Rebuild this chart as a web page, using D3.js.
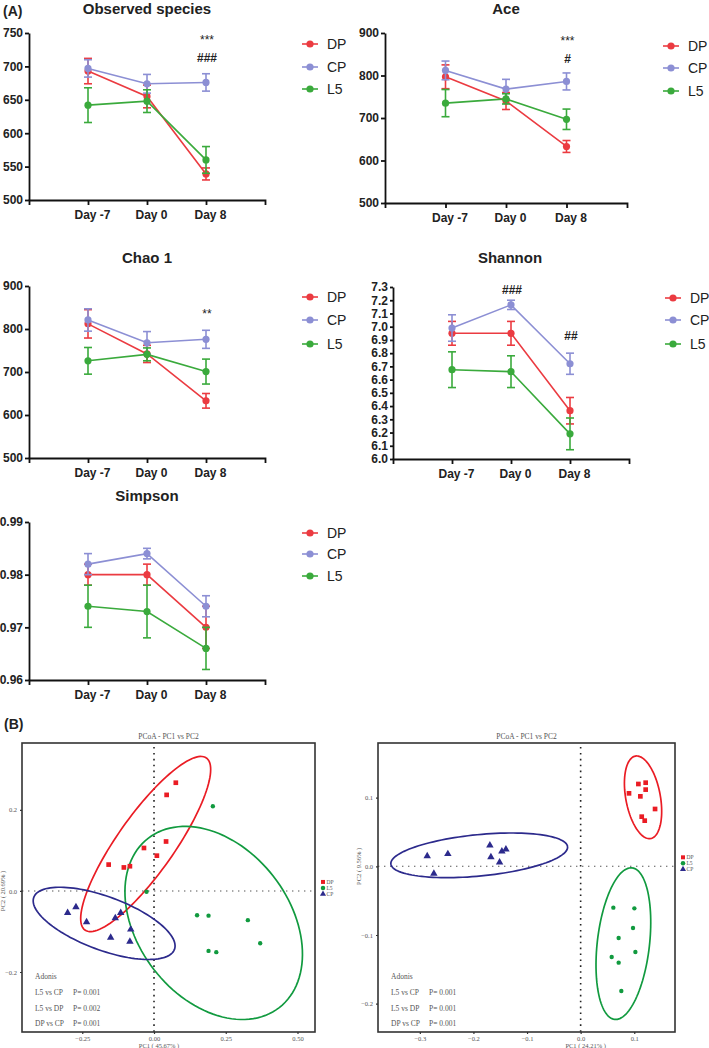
<!DOCTYPE html>
<html><head><meta charset="utf-8">
<script src="https://cdn.jsdelivr.net/npm/d3@7"></script>
<style>body{margin:0;background:#fff;} svg{display:block;}</style>
</head><body><svg id="c" width="709" height="1048"></svg>
<script>
// ---------- DATA ----------
const days = ["Day -7", "Day 0", "Day 8"];
const groups = ["DP", "CP", "L5"];

const obsDP = [693, 655, 539], obsDPErr = [19, 17, 9];
const obsCP = [697, 674, 676], obsCPErr = [13, 14, 13];
const obsL5 = [642, 648, 560], obsL5Err = [26, 17, 20];
const obsTicks = [500, 550, 600, 650, 700, 750];

const aceDP = [797, 740, 633], aceDPErr = [28, 20, 14];
const aceCP = [812, 768, 786], aceCPErr = [22, 23, 20];
const aceL5 = [735, 745, 697], aceL5Err = [32, 12, 24];
const aceTicks = [500, 600, 700, 800, 900];

const chaoDP = [812, 742, 633], chaoDPErr = [33, 20, 17];
const chaoCP = [821, 768, 776], chaoCPErr = [26, 26, 21];
const chaoL5 = [726, 741, 701], chaoL5Err = [31, 15, 29];
const chaoTicks = [500, 600, 700, 800, 900];

const shanDP = [6.95, 6.95, 6.365], shanDPErr = [0.09, 0.09, 0.1];
const shanCP = [6.99, 7.165, 6.72], shanCPErr = [0.1, 0.035, 0.08];
const shanL5 = [6.675, 6.66, 6.19], shanL5Err = [0.135, 0.12, 0.12];
const shanTicks = [6.0, 6.1, 6.2, 6.3, 6.4, 6.5, 6.6, 6.7, 6.8, 6.9, 7.0, 7.1, 7.2, 7.3];

const simDP = [0.980, 0.980, 0.970], simDPErr = [0.002, 0.002, 0.004];
const simCP = [0.982, 0.984, 0.974], simCPErr = [0.002, 0.001, 0.002];
const simL5 = [0.974, 0.973, 0.966], simL5Err = [0.004, 0.005, 0.004];
const simTicks = [0.96, 0.97, 0.98, 0.99];

// PCoA left  (PC1, PC2)
const pcoaL_DP = [[0.076,0.267],[0.044,0.237],[0.042,0.122],[-0.035,0.106],[0.010,0.087],[-0.158,0.065],[-0.105,0.058],[-0.084,0.061]];
const pcoaL_L5 = [[0.205,0.209],[-0.026,-0.002],[0.150,-0.060],[0.190,-0.061],[0.327,-0.072],[0.370,-0.129],[0.190,-0.148],[0.217,-0.151]];
const pcoaL_CP = [[-0.301,-0.054],[-0.272,-0.040],[-0.235,-0.077],[-0.135,-0.067],[-0.116,-0.054],[-0.081,-0.095],[-0.151,-0.115],[-0.084,-0.125]];
// ellipse: centre, semi-axis vector 1, semi-axis vector 2 (data units)
const ellL_DP = [-0.029, 0.1158, 0.2116, 0.2122, 0.0807, -0.0405];
const ellL_L5 = [0.208, -0.079, 0.2285, -0.2088, -0.2085, -0.1147];
const ellL_CP = [-0.1738, -0.080, 0.2451, -0.0643, -0.0322, -0.0617];
const pcoaLxTicks = [-0.25, 0, 0.25, 0.5];
const pcoaLyTicks = [-0.2, 0, 0.2];
const adonisL = [["L5 vs CP", "P= 0.001"], ["L5 vs DP", "P= 0.002"], ["DP vs CP", "P= 0.001"]];

// PCoA right
const pcoaR_DP = [[0.0902,0.1063],[0.1077,0.1199],[0.1213,0.1218],[0.1213,0.1117],[0.1114,0.1019],[0.1388,0.0835],[0.1139,0.0723],[0.1195,0.0665]];
const pcoaR_L5 = [[0.061,-0.0602],[0.1002,-0.0612],[0.0977,-0.0898],[0.0709,-0.1044],[0.1021,-0.1248],[0.0579,-0.1320],[0.0709,-0.1403],[0.0759,-0.1816]];
const pcoaR_CP = [[-0.2862,0.0150],[-0.2477,0.0180],[-0.2738,-0.0107],[-0.1693,0.0306],[-0.1674,0.0136],[-0.1469,0.0218],[-0.1394,0.0248],[-0.1512,0.0058]];
const ellR_DP = [0.1164, 0.1005, 0.01425, -0.06005, -0.0317, -0.00459];
const ellR_L5 = [0.0797, -0.1126, 0.01624, 0.11034, 0.0484, -0.00432];
const ellR_CP = [-0.1892, 0.0160, 0.1648, 0.01257, 0.003765, -0.0300];
const pcoaRxTicks = [-0.3, -0.2, -0.1, 0, 0.1];
const pcoaRyTicks = [-0.2, -0.1, 0, 0.1];
const adonisR = [["L5 vs CP", "P= 0.001"], ["L5 vs DP", "P= 0.001"], ["DP vs CP", "P= 0.001"]];

// ---------- STYLE ----------
const lineColor = {DP: "#eb3b41", CP: "#8c8fd4", L5: "#3aaa3c"};
const pcoaColor = {DP: "#ea1c24", L5: "#119a3f", CP: "#2c2a8c"};
const SANS = "'Liberation Sans', Arial, Helvetica, sans-serif";
const SERIF = "'Liberation Serif', 'DejaVu Serif', serif";

const svg = d3.select("#c");

function linePanel(cfg) {
  const g = svg.append("g");
  const x = d3.scaleLinear().domain([0, 4]).range([cfg.x0, cfg.x1]);
  const y = d3.scaleLinear().domain(cfg.domain).range([cfg.yb, cfg.yt]);

  // axes
  const ya = g.append("g").attr("transform", `translate(${cfg.x0},0)`)
    .call(d3.axisLeft(y).tickValues(cfg.ticks).tickFormat(cfg.fmt).tickSize(cfg.tickLen || 4).tickSizeOuter(0).tickPadding(2));
  const xa = g.append("g").attr("transform", `translate(0,${cfg.yb})`)
    .call(d3.axisBottom(x).tickValues([1, 2, 3]).tickFormat(i => days[i - 1]).tickSize(5).tickSizeOuter(5).tickPadding(5));
  [ya, xa].forEach(a => {
    a.selectAll("path,line").attr("stroke", "#111").attr("stroke-width", 1.8);
    a.selectAll("text").attr("font-family", SANS).attr("font-weight", "bold")
      .attr("font-size", cfg.fs || 12).attr("fill", "#222");
  });
  xa.selectAll("text").attr("dx", 4);

  // title
  g.append("text").attr("x", cfg.tx).attr("y", cfg.ty).attr("text-anchor", "middle")
    .attr("font-family", SANS).attr("font-weight", "bold").attr("font-size", 15).attr("fill", "#222")
    .text(cfg.title);

  // series
  cfg.series.forEach(s => {
    const col = lineColor[s.name];
    const pts = s.mean.map((v, i) => [x(i + 1), y(v)]);
    g.append("path").attr("d", d3.line()(pts)).attr("fill", "none").attr("stroke", col).attr("stroke-width", 1.6);
    s.mean.forEach((v, i) => {
      const cx = x(i + 1), top = y(v + s.err[i]), bot = y(v - s.err[i]);
      g.append("line").attr("x1", cx).attr("x2", cx).attr("y1", top).attr("y2", bot).attr("stroke", col).attr("stroke-width", 1.6);
      [top, bot].forEach(yy => g.append("line").attr("x1", cx - 4).attr("x2", cx + 4).attr("y1", yy).attr("y2", yy)
        .attr("stroke", col).attr("stroke-width", 1.6));
      g.append("circle").attr("cx", cx).attr("cy", y(v)).attr("r", 3.6).attr("fill", col);
    });
  });

  // annotations
  (cfg.notes || []).forEach(n => {
    g.append("text").attr("x", x(n.i + 1) + 1).attr("y", n.y).attr("text-anchor", "middle")
      .attr("font-family", SANS).attr("font-weight", n.bold ? "bold" : "normal").attr("font-size", n.fs || 12)
      .attr("fill", "#222").text(n.t);
  });

  // legend
  groups.forEach((name, k) => {
    const ly = cfg.ly[k], lx = cfg.lx;
    g.append("line").attr("x1", lx).attr("x2", lx + 16).attr("y1", ly).attr("y2", ly)
      .attr("stroke", lineColor[name]).attr("stroke-width", 1.6);
    g.append("circle").attr("cx", lx + 8).attr("cy", ly).attr("r", 3.6).attr("fill", lineColor[name]);
    g.append("text").attr("x", lx + 25).attr("y", ly + 5).attr("font-family", SANS).attr("font-size", 14)
      .attr("fill", "#222").text(name);
  });
}

const f0 = d3.format("d");
linePanel({title: "Observed species", tx: 147, ty: 14, x0: 29, x1: 265, yt: 33, yb: 200,
  domain: [500, 750], ticks: obsTicks, fmt: f0,
  series: [{name: "DP", mean: obsDP, err: obsDPErr}, {name: "CP", mean: obsCP, err: obsCPErr}, {name: "L5", mean: obsL5, err: obsL5Err}],
  notes: [{i: 2, y: 44, t: "***"}, {i: 2, y: 62, t: "###", bold: true}],
  lx: 302, ly: [44, 67, 89]});

linePanel({title: "Ace", tx: 506, ty: 14, x0: 385, x1: 627, yt: 33, yb: 203,
  domain: [500, 900], ticks: aceTicks, fmt: f0,
  series: [{name: "DP", mean: aceDP, err: aceDPErr}, {name: "CP", mean: aceCP, err: aceCPErr}, {name: "L5", mean: aceL5, err: aceL5Err}],
  notes: [{i: 2, y: 45, t: "***"}, {i: 2, y: 63, t: "#", bold: true}],
  lx: 663, ly: [46, 68, 91]});

linePanel({title: "Chao 1", tx: 147, ty: 263, x0: 29, x1: 265, yt: 286, yb: 458,
  domain: [500, 900], ticks: chaoTicks, fmt: f0,
  series: [{name: "DP", mean: chaoDP, err: chaoDPErr}, {name: "CP", mean: chaoCP, err: chaoCPErr}, {name: "L5", mean: chaoL5, err: chaoL5Err}],
  notes: [{i: 2, y: 318, t: "**"}],
  lx: 302, ly: [297, 320, 344]});

linePanel({title: "Shannon", tx: 510, ty: 263, x0: 393, x1: 629, yt: 287, yb: 459,
  domain: [6.0, 7.3], ticks: shanTicks, fmt: d3.format(".1f"), tickLen: 3,
  series: [{name: "DP", mean: shanDP, err: shanDPErr}, {name: "CP", mean: shanCP, err: shanCPErr}, {name: "L5", mean: shanL5, err: shanL5Err}],
  notes: [{i: 1, y: 294, t: "###", bold: true}, {i: 2, y: 340, t: "##", bold: true}],
  lx: 665, ly: [298, 320, 344]});

linePanel({title: "Simpson", tx: 147, ty: 501, x0: 29, x1: 265, yt: 522, yb: 680,
  domain: [0.96, 0.99], ticks: simTicks, fmt: d3.format(".2f"),
  series: [{name: "DP", mean: simDP, err: simDPErr}, {name: "CP", mean: simCP, err: simCPErr}, {name: "L5", mean: simL5, err: simL5Err}],
  notes: [],
  lx: 302, ly: [533, 554, 576]});

// panel letters
svg.append("text").attr("x", 3).attr("y", 16).attr("font-family", SANS).attr("font-weight", "bold")
  .attr("font-size", 14).attr("fill", "#222").text("(A)");
svg.append("text").attr("x", 4).attr("y", 729).attr("font-family", SANS).attr("font-weight", "bold")
  .attr("font-size", 14).attr("fill", "#222").text("(B)");

// ---------- PCoA ----------
function pcoaPanel(cfg) {
  const g = svg.append("g");
  const x = d3.scaleLinear().domain(cfg.xd).range([cfg.x0, cfg.x1]);
  const y = d3.scaleLinear().domain(cfg.yd).range([cfg.y1, cfg.y0]);
  const tc = "#555";

  // zero lines
  g.append("line").attr("x1", x(0)).attr("x2", x(0)).attr("y1", cfg.y0 + 4).attr("y2", cfg.y1)
    .attr("stroke", "#222").attr("stroke-width", 1.6).attr("stroke-dasharray", "1.6,4.3");
  g.append("line").attr("x1", cfg.x0).attr("x2", cfg.x1).attr("y1", y(0)).attr("y2", y(0))
    .attr("stroke", "#555").attr("stroke-width", 1.1).attr("stroke-dasharray", "1.4,4.6");

  // ellipses
  const ts = d3.range(0, 121).map(k => k / 120 * 2 * Math.PI);
  cfg.ells.forEach(e => {
    const p = e.e;
    const pts = ts.map(t => [x(p[0] + Math.cos(t) * p[2] + Math.sin(t) * p[4]), y(p[1] + Math.cos(t) * p[3] + Math.sin(t) * p[5])]);
    g.append("path").attr("d", d3.line()(pts)).attr("fill", "none").attr("stroke", pcoaColor[e.name]).attr("stroke-width", 1.7);
  });

  // points
  const sym = {DP: d3.symbolSquare, L5: d3.symbolCircle, CP: d3.symbolTriangle};
  const sz = {DP: 22, L5: 15, CP: 24};
  cfg.pts.forEach(s => {
    s.d.forEach(d => g.append("path").attr("d", d3.symbol().type(sym[s.name]).size(sz[s.name])())
      .attr("transform", `translate(${x(d[0])},${y(d[1])})`).attr("fill", pcoaColor[s.name]));
  });

  // box
  g.append("rect").attr("x", cfg.x0).attr("y", cfg.y0).attr("width", cfg.x1 - cfg.x0).attr("height", cfg.y1 - cfg.y0)
    .attr("fill", "none").attr("stroke", "#333").attr("stroke-width", 1.6);

  // axes
  const xa = g.append("g").attr("transform", `translate(0,${cfg.y1})`)
    .call(d3.axisBottom(x).tickValues(cfg.xt).tickFormat(cfg.xf).tickSize(2).tickSizeOuter(0).tickPadding(2));
  const ya = g.append("g").attr("transform", `translate(${cfg.x0},0)`)
    .call(d3.axisLeft(y).tickValues(cfg.yt).tickFormat(cfg.yf).tickSize(2).tickSizeOuter(0).tickPadding(3));
  [xa, ya].forEach(a => {
    a.select(".domain").remove();
    a.selectAll("line").attr("stroke", "#333").attr("stroke-width", 1.2);
    a.selectAll("text").attr("font-family", SERIF).attr("font-size", 6.5).attr("fill", tc);
  });

  // titles
  g.append("text").attr("x", (cfg.x0 + cfg.x1) / 2).attr("y", cfg.y0 - 4).attr("text-anchor", "middle")
    .attr("font-family", SERIF).attr("font-size", 7.5).attr("fill", tc).text("PCoA - PC1 vs PC2");
  g.append("text").attr("x", x(0) + 5).attr("y", cfg.y1 + 16).attr("text-anchor", "middle")
    .attr("font-family", SERIF).attr("font-size", 6.5).attr("fill", tc).text(cfg.xlab);
  g.append("text").attr("transform", `translate(${cfg.x0 - 17},${y(0)}) rotate(-90)`).attr("text-anchor", "middle")
    .attr("font-family", SERIF).attr("font-size", 6.5).attr("fill", tc).text(cfg.ylab);

  // adonis
  g.append("text").attr("x", cfg.x0 + 13).attr("y", cfg.y0 + 236).attr("font-family", SERIF)
    .attr("font-size", 7.5).attr("fill", tc).text("Adonis");
  cfg.adonis.forEach((r, k) => {
    const yy = cfg.y0 + 252 + k * 15.5;
    g.append("text").attr("x", cfg.x0 + 13).attr("y", yy).attr("font-family", SERIF).attr("font-size", 7.5).attr("fill", tc).text(r[0]);
    g.append("text").attr("x", cfg.x0 + 51).attr("y", yy).attr("font-family", SERIF).attr("font-size", 7.5).attr("fill", tc).text(r[1]);
  });

  // legend
  ["DP", "L5", "CP"].forEach((name, k) => {
    const lx = cfg.x1 + 8, ly = y(0) - 9 + k * 6;
    g.append("path").attr("d", d3.symbol().type(sym[name]).size(16)()).attr("transform", `translate(${lx},${ly})`).attr("fill", pcoaColor[name]);
    g.append("text").attr("x", lx + 3.5).attr("y", ly + 2).attr("font-family", SERIF).attr("font-size", 5.5).attr("fill", tc).text(name);
  });
}

pcoaPanel({x0: 22, x1: 315, y0: 743, y1: 1032, xd: [-0.46, 0.561], yd: [-0.348, 0.365],
  xt: pcoaLxTicks, yt: pcoaLyTicks, xf: d3.format(".2f"), yf: d3.format(".1f"),
  xlab: "PC1 ( 45.67% )", ylab: "PC2 ( 20.69% )", adonis: adonisL,
  ells: [{name: "DP", e: ellL_DP}, {name: "L5", e: ellL_L5}, {name: "CP", e: ellL_CP}],
  pts: [{name: "DP", d: pcoaL_DP}, {name: "L5", d: pcoaL_L5}, {name: "CP", d: pcoaL_CP}]});

pcoaPanel({x0: 378, x1: 675, y0: 743, y1: 1032, xd: [-0.378, 0.176], yd: [-0.2413, 0.1796],
  xt: pcoaRxTicks, yt: pcoaRyTicks, xf: d3.format(".1f"), yf: d3.format(".1f"),
  xlab: "PC1 ( 24.21% )", ylab: "PC2 ( 9.56% )", adonis: adonisR,
  ells: [{name: "DP", e: ellR_DP}, {name: "L5", e: ellR_L5}, {name: "CP", e: ellR_CP}],
  pts: [{name: "DP", d: pcoaR_DP}, {name: "L5", d: pcoaR_L5}, {name: "CP", d: pcoaR_CP}]});
</script></body></html>
